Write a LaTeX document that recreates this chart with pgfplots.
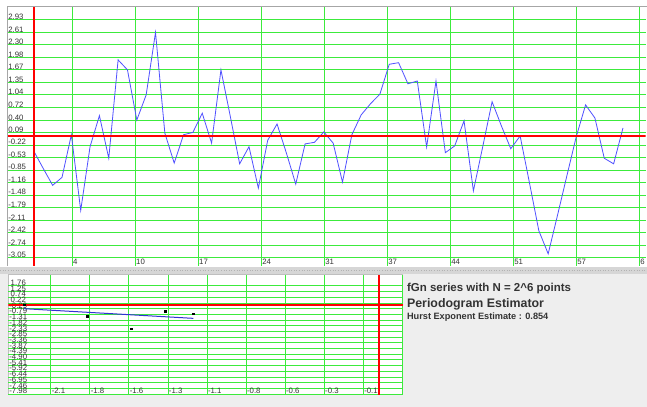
\documentclass[border=0pt]{standalone}
\usepackage{pgfplots}
\pgfplotsset{compat=1.18}
\usepackage{pgfplotstable}
\usepackage{fontspec}
\setmainfont{Liberation Sans}
\definecolor{gridgreen}{RGB}{60,235,60}
\definecolor{serblue}{RGB}{80,80,255}
\definecolor{regblue}{RGB}{50,50,210}
\definecolor{bgray}{RGB}{238,238,238}
\definecolor{divgray}{RGB}{214,214,214}
\definecolor{txtgray}{RGB}{51,51,51}
\pgfplotstableread{
i v
0 -0.38
1 -0.81
2 -1.23
3 -1.03
4 0.04
5 -1.86
6 -0.26
7 0.52
8 -0.55
9 1.92
10 1.67
11 0.41
12 1.04
13 2.61
14 0.08
15 -0.67
16 0.04
17 0.10
18 0.58
19 -0.17
20 1.67
21 0.50
22 -0.69
23 -0.26
24 -1.30
25 -0.10
26 0.31
27 -0.42
28 -1.20
29 -0.19
30 -0.15
31 0.11
32 -0.17
33 -1.15
34 0.04
35 0.54
36 0.82
37 1.06
38 1.81
39 1.85
40 1.32
41 1.39
42 -0.27
43 1.39
44 -0.41
45 -0.24
46 0.39
47 -1.37
48 -0.26
49 0.87
50 0.26
51 -0.31
52 0.01
53 -1.17
54 -2.37
55 -2.95
56 -1.98
57 -0.99
58 -0.01
59 0.79
60 0.46
61 -0.55
62 -0.69
63 0.21
}\fgn
\begin{document}
\begin{tikzpicture}[x=1pt,y=1pt]
\fill[white] (0,0) rectangle (647,407);
\fill[bgray] (0,0) rectangle (647,133);
\fill[divgray] (0,133) rectangle (647,139.5);
\draw[gray!60, dotted, line width=0.6pt] (0,136.3) -- (647,136.3);
\fill[white] (8,12) rectangle (403,132);
\draw[gray!50, line width=0.6pt] (8,12) -- (8,132) -- (403,132);

\begin{axis}[at={(7pt,141pt)}, anchor=south west, scale only axis,
  width=639pt, height=260pt,
  xmin=-2.853, xmax=65.42, ymin=-3.249, ymax=3.274,
  axis line style={draw=none}, major tick length=0pt,
  grid=major, major grid style={gridgreen, line width=0.9pt},
  xtick={4.09,10.83,17.57,24.31,31.05,37.79,44.53,51.27,58.01,64.75},
  xticklabels={4,10,17,24,31,37,44,51,57,6},
  ytick={2.93,2.61,2.30,1.98,1.67,1.35,1.04,0.72,0.40,0.09,-0.22,-0.53,-0.85,-1.16,-1.48,-1.79,-2.11,-2.42,-2.74,-3.05},
  yticklabels={2.93,2.61,2.30,1.98,1.67,1.35,1.04,0.72,0.40,0.09,-0.22,-0.53,-0.85,-1.16,-1.48,-1.79,-2.11,-2.42,-2.74,-3.05},
  xticklabel style={anchor=south west, inner sep=0pt, font=\fontsize{7.8}{8}\selectfont, text=black!80, xshift=0.8pt, yshift=1.2pt},
  yticklabel style={anchor=west, inner sep=0pt, font=\fontsize{7.8}{8}\selectfont, text=black!80, xshift=0.8pt, yshift=3pt},
]
\addplot[serblue, line width=0.8pt] table[x=i, y=v] {\fgn};
\draw[red, line width=2pt] (axis cs:0,-3.249) -- (axis cs:0,3.274);
\draw[red, line width=2pt] (axis cs:-2.853,0) -- (axis cs:65.42,0);
\end{axis}
\draw[gray!70, line width=0.8pt] (7,141) -- (7,401) -- (647,401);

\begin{axis}[at={(8pt,12pt)}, anchor=south west, scale only axis,
  width=395pt, height=120pt,
  xmin=-2.374, xmax=0.1515, ymin=-8.02, ymax=2.77,
  axis line style={draw=none}, major tick length=0pt,
  grid=major, major grid style={gridgreen, line width=0.9pt},
  xtick={-2.102,-1.852,-1.602,-1.352,-1.102,-0.852,-0.602,-0.352,-0.102,0.148},
  xticklabels={-2.1,-1.8,-1.6,-1.3,-1.1,-0.8,-0.6,-0.3,-0.1,{}},
  ytick={1.76,1.25,0.74,0.22,-0.29,-0.79,-1.31,-1.82,-2.33,-2.85,-3.36,-3.87,-4.39,-4.90,-5.41,-5.92,-6.44,-6.95,-7.46,-7.98},
  yticklabels={1.76,1.25,0.74,0.22,-0.29,-0.79,-1.31,-1.82,-2.33,-2.85,-3.36,-3.87,-4.39,-4.90,-5.41,-5.92,-6.44,-6.95,-7.46,-7.98},
  xticklabel style={anchor=south west, inner sep=0pt, font=\fontsize{7.8}{8}\selectfont, text=black!80, xshift=0.8pt, yshift=0.8pt},
  yticklabel style={anchor=center, inner sep=0pt, font=\fontsize{7.8}{8}\selectfont, text=black!80, xshift=10pt, yshift=3pt},
]
\addplot[regblue, line width=1pt] coordinates {(-2.272,-0.29) (-1.189,-1.16)};
\addplot[only marks, mark=square*, mark size=0.9pt, black] coordinates {(-2.272,0.07) (-1.871,-0.94) (-1.588,-2.09) (-1.370,-0.53) (-1.189,-0.74)};
\draw[red, line width=2pt] (axis cs:-2.374,0) -- (axis cs:0.1515,0);
\draw[red, line width=2pt] (axis cs:0,-8.02) -- (axis cs:0,2.77);
\end{axis}

\node[anchor=base west, inner sep=0pt, text=txtgray, font=\bfseries\fontsize{11.5}{12}\selectfont] at (407,115.3) {fGn series with N = 2\textasciicircum 6 points};
\node[anchor=base west, inner sep=0pt, text=txtgray, font=\bfseries\fontsize{12.4}{13}\selectfont] at (407,99.3) {Periodogram Estimator};
\node[anchor=base west, inner sep=0pt, text=txtgray, font=\bfseries\fontsize{9.2}{10}\selectfont] at (407,86.7) {Hurst Exponent Estimate : 0.854};
\end{tikzpicture}
\end{document}
